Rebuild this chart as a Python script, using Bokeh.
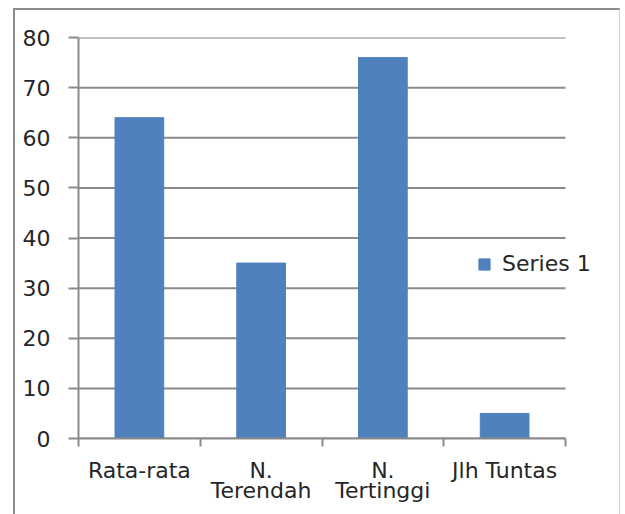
import numpy as np
from bokeh.plotting import figure
from bokeh.models import (ColumnDataSource, Range1d, LinearAxis,
                          FixedTicker, Legend, LegendItem)
from bokeh.embed import file_html
from bokeh.resources import INLINE

categories = ["Rata-rata", "N. Terendah", "N. Tertinggi", "Jlh Tuntas"]
tick_labels = ["Rata-rata", "N.\nTerendah", "N.\nTertinggi", "Jlh Tuntas"]
series_1 = [64, 35, 76, 5]
y_ticks = [0, 10, 20, 30, 40, 50, 60, 70, 80]
series_name = "Series 1"

FONT = "DejaVu Sans"
TXT = "#262626"
GRID = "#8a8a8a"
BAR = "#4F81BD"

n = len(categories)
centers = (np.arange(n) + 0.5).tolist()
bounds = list(range(n + 1))
source = ColumnDataSource(data=dict(x=centers, cat=categories, val=series_1))
grid_src = ColumnDataSource(data=dict(y=y_ticks, x0=[0] * len(y_ticks),
                                      x1=[n] * len(y_ticks)))

# frame: plot area spans axis (x 78) to 565; extra room on the right for legend
FRAME_L, AXIS_R, FRAME_R = 78, 565, 622
x_end = n * (FRAME_R - FRAME_L) / (AXIS_R - FRAME_L)

p = figure(
    width=607, height=508,
    x_range=Range1d(0, x_end),
    y_range=Range1d(0, 80),
    output_backend="svg", toolbar_location=None,
    x_axis_location=None,
    min_border_left=63, min_border_right=0,
    min_border_top=27, min_border_bottom=80,
    styles={"margin-left": "13px", "margin-top": "8px",
            "border-left": "2px solid #8c8c8c",
            "border-top": "2px solid #8c8c8c",
            "border-right": "1px solid #cfcfcf"},
)
p.outline_line_color = None
p.background_fill_color = "white"
p.border_fill_color = "white"
p.xgrid.grid_line_color = None
p.ygrid.grid_line_color = None

# horizontal grid lines across the category span
p.segment(x0="x0", x1="x1", y0="y", y1="y", source=grid_src,
          line_color=GRID, line_width=2)

r = p.vbar(x="x", top="val", width=0.4, source=source,
           fill_color=BAR, line_color=BAR)

# y axis
p.yaxis.ticker = FixedTicker(ticks=y_ticks)
p.yaxis.axis_line_color = GRID
p.yaxis.axis_line_width = 2
p.yaxis.major_tick_line_color = GRID
p.yaxis.major_tick_line_width = 2
p.yaxis.major_tick_out = 10
p.yaxis.major_tick_in = 0
p.yaxis.minor_tick_line_color = None
p.yaxis.major_label_standoff = 18
p.yaxis.major_label_text_font = FONT
p.yaxis.major_label_text_font_size = "22px"
p.yaxis.major_label_text_color = TXT

# x axis: labels at category centres, tick marks at category boundaries
cat_axis = LinearAxis(ticker=FixedTicker(ticks=centers, minor_ticks=bounds),
                      bounds=(0, n))
cat_axis.axis_line_color = GRID
cat_axis.axis_line_width = 2
cat_axis.major_tick_line_color = None
cat_axis.major_tick_out = 8
cat_axis.major_tick_in = 0
cat_axis.minor_tick_line_color = GRID
cat_axis.minor_tick_line_width = 2
cat_axis.minor_tick_out = 8
cat_axis.minor_tick_in = 0
cat_axis.major_label_overrides = {c: t for c, t in zip(centers, tick_labels)}
cat_axis.major_label_text_font = FONT
cat_axis.major_label_text_font_size = "22px"
cat_axis.major_label_text_color = TXT
cat_axis.major_label_text_line_height = 0.8
cat_axis.major_label_standoff = 11
p.add_layout(cat_axis, "below")

legend = Legend(items=[LegendItem(label=series_name, renderers=[r])],
                location=(399, 162))
legend.background_fill_alpha = 0
legend.border_line_color = None
legend.padding = 0
legend.margin = 0
legend.glyph_width = 14
legend.glyph_height = 14
legend.label_standoff = 11
legend.label_text_font = FONT
legend.label_text_font_size = "22px"
legend.label_text_color = TXT
p.add_layout(legend, "center")

open("out.html", "w").write(file_html(p, INLINE))
